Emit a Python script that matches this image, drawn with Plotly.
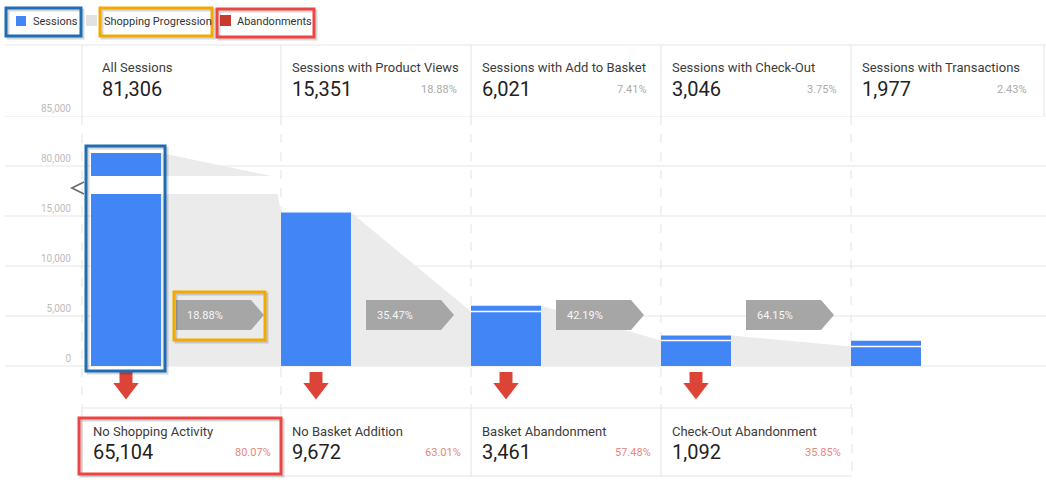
import plotly.graph_objects as go

steps = ['All Sessions', 'Sessions with Product Views', 'Sessions with Add to Basket',
         'Sessions with Check-Out', 'Sessions with Transactions']
sessions = [81306, 15351, 6021, 3046, 1977]
session_share = [None, 18.88, 7.41, 3.75, 2.43]
bar_heights = [81306, 15351, 6021, 3046, 2530]
progression_pct = [18.88, 35.47, 42.19, 64.15]
progressed = [15351, 5445, 2540, 1954]
break_wedge_end = 78800

abandon_steps = ['No Shopping Activity', 'No Basket Addition',
                 'Basket Abandonment', 'Check-Out Abandonment']
abandonments = [65104, 9672, 3461, 1092]
abandon_share = [80.07, 63.01, 57.48, 35.85]

lower_ticks = [0, 5000, 10000, 15000]
upper_ticks = [80000, 85000]

legend_items = ['Sessions', 'Shopping Progression', 'Abandonments']

# ── styling ───────────────────────────────────────────────────────
W, H = 1046, 484
BLUE = '#4285f4'
FUNNEL = '#ebebeb'
ARROW = '#a6a6a6'
RED = '#db4437'
GRID = '#e5e5e5'
FONT = 'Roboto, Arial, sans-serif'

COL = 190          # px between steps
BAR = 70           # bar width px
X0 = 126           # px centre of first bar
half = BAR / 2 / COL
ppx = 1 / COL      # x units per pixel
VPX = 100          # sessions per pixel on the lower scale


def fx(p):
    return p / W


def fy(p):
    return 1 - p / H


def xpx(p):
    return (p - X0) / COL


xs = list(range(len(steps)))
lx = [i - half for i in xs]
rx = [i + half for i in xs]

fig = go.Figure()

# ── funnel (shopping progression) ─────────────────────────────────
for i in range(len(progressed)):
    fig.add_trace(go.Scatter(
        x=[rx[i], rx[i], lx[i + 1], lx[i + 1]],
        y=[0, bar_heights[i], progressed[i], 0],
        fill='toself', fillcolor=FUNNEL, mode='lines', line=dict(width=0),
        hoverinfo='skip', showlegend=False,
    ))
fig.add_trace(go.Scatter(
    x=[rx[0], rx[0], lx[1], lx[1]],
    y=[0, bar_heights[0], break_wedge_end, 0],
    fill='toself', fillcolor=FUNNEL, mode='lines', line=dict(width=0),
    hoverinfo='skip', showlegend=False, xaxis='x2', yaxis='y2',
))

# ── session bars (both halves of the broken axis) ─────────────────
for xa, ya in [('x', 'y'), ('x2', 'y2')]:
    fig.add_trace(go.Bar(
        x=xs, y=bar_heights, width=BAR / COL, marker_color=BLUE,
        marker_line_width=0, showlegend=False, xaxis=xa, yaxis=ya,
    ))

# white split line: sessions coming from the previous step
wx, wy = [], []
for i in range(2, len(steps)):
    wx += [lx[i], rx[i], None]
    wy += [progressed[i - 1], progressed[i - 1], None]
fig.add_trace(go.Scatter(x=wx, y=wy, mode='lines', line=dict(color='white', width=1.5),
                         hoverinfo='skip', showlegend=False))

# ── progression arrows ────────────────────────────────────────────
a_top, a_bot = 6600, 3600
a_mid = (a_top + a_bot) / 2
for i, pct in enumerate(progression_pct):
    s = rx[i] + 15 * ppx
    e = s + 75 * ppx
    t = s + 88 * ppx
    fig.add_trace(go.Scatter(
        x=[s, e, t, e, s], y=[a_top, a_top, a_mid, a_bot, a_bot],
        fill='toself', fillcolor=ARROW, mode='lines', line=dict(width=0),
        hoverinfo='skip', showlegend=False,
    ))
    fig.add_annotation(x=s + 9 * ppx, y=a_mid, text=f'{pct:.2f}%', showarrow=False,
                       xanchor='left', yanchor='middle',
                       font=dict(family=FONT, size=11, color='#f7f7f7'))

# ── abandonment arrows (below the zero line) ──────────────────────
fig.add_trace(go.Scatter(
    x=xs[:4], y=[-12.5 * VPX] * 4, mode='markers',
    marker=dict(symbol='square', size=13, color=RED, line_width=0),
    hoverinfo='skip', showlegend=False,
))
fig.add_trace(go.Scatter(
    x=xs[:4], y=[-22.5 * VPX] * 4, mode='markers',
    marker=dict(symbol='triangle-down', size=22, color=RED, line_width=0),
    hoverinfo='skip', showlegend=False,
))

shapes = []
ann = []

# gridlines (span the label column too)
for ref, ticks in [('y', lower_ticks), ('y2', upper_ticks)]:
    for v in ticks:
        shapes.append(dict(type='line', xref='paper', yref=ref, x0=fx(5), x1=1,
                           y0=v, y1=v, line=dict(color=GRID, width=1), layer='below'))


# table lines
def hline(y, x0, x1, dash='solid'):
    shapes.append(dict(type='line', xref='paper', yref='paper', x0=fx(x0), x1=fx(x1),
                       y0=fy(y), y1=fy(y), line=dict(color=GRID, width=1, dash=dash),
                       layer='below'))


def vline(x, y0, y1, dash='solid'):
    shapes.append(dict(type='line', xref='paper', yref='paper', x0=fx(x), x1=fx(x),
                       y0=fy(y0), y1=fy(y1), line=dict(color='#e3e3e3', width=1, dash=dash),
                       layer='below'))


col_edges = [82] + [X0 + COL * i - BAR / 2 for i in range(1, 5)]
hline(45, 5, 1046)
for c in col_edges + [1044]:
    vline(c, 45, 116)
for c in col_edges:
    vline(c, 116, 408, dash='dash')
hline(408, 82, 852)
hline(476, 82, 852)
for c in col_edges[:4]:
    vline(c, 408, 476)
vline(852, 408, 476, dash='dash')

# axis break chevron
shapes.append(dict(type='path', xref='paper', yref='paper',
                   path=f'M {fx(84)} {fy(182)} L {fx(72)} {fy(188)} L {fx(84)} {fy(194)}',
                   line=dict(color='#6e6e6e', width=1.8)))

# ── header cells ──────────────────────────────────────────────────
for i, name in enumerate(steps):
    left = 82 if i == 0 else col_edges[i]
    right = X0 + COL * (i + 1) - BAR / 2
    tx = left + (18 if i == 0 else 9)
    ann.append(dict(x=fx(tx), y=fy(67), text=name, xanchor='left', yanchor='middle',
                    font=dict(family=FONT, size=13, color='#3c3c3c')))
    ann.append(dict(x=fx(tx), y=fy(89), text=f'{sessions[i]:,}', xanchor='left',
                    yanchor='middle', font=dict(family=FONT, size=20, color='#222222')))
    if session_share[i] is not None:
        ann.append(dict(x=fx(right - 12), y=fy(90), text=f'{session_share[i]:.2f}%',
                        xanchor='right', yanchor='middle',
                        font=dict(family=FONT, size=11, color='#ababab')))

# ── abandonment cells ─────────────────────────────────────────────
for i, name in enumerate(abandon_steps):
    left = col_edges[i]
    right = col_edges[i + 1] if i + 1 < len(col_edges) else 852
    ann.append(dict(x=fx(left + 9), y=fy(431), text=name, xanchor='left', yanchor='middle',
                    font=dict(family=FONT, size=13, color='#3c3c3c')))
    ann.append(dict(x=fx(left + 9), y=fy(452), text=f'{abandonments[i]:,}', xanchor='left',
                    yanchor='middle', font=dict(family=FONT, size=20, color='#222222')))
    ann.append(dict(x=fx(right - 8), y=fy(452), text=f'{abandon_share[i]:.2f}%',
                    xanchor='right', yanchor='middle',
                    font=dict(family=FONT, size=11, color='#e8877e')))

# ── legend ────────────────────────────────────────────────────────
legend_sq = [(16, 16, 26, 26, BLUE), (86, 15, 97, 26, '#e2e2e2'), (220, 15, 231, 26, '#cc3a2f')]
legend_tx = [31, 102, 235]
for (x0, y0, x1, y1, c), t, label in zip(legend_sq, legend_tx, legend_items):
    shapes.append(dict(type='rect', xref='paper', yref='paper', x0=fx(x0), x1=fx(x1),
                       y0=fy(y1), y1=fy(y0), fillcolor=c, line=dict(width=0)))
    ann.append(dict(x=fx(t), y=fy(21), text=label, xanchor='left', yanchor='middle',
                    font=dict(family=FONT, size=11, color='#333333')))

# ── highlight boxes ───────────────────────────────────────────────
boxes = [
    (6, 8, 81, 36, '#1f6db5'),
    (100, 8, 212, 36, '#f2a900'),
    (217, 9, 314, 37, '#ef4444'),
    (86, 146, 165, 371, '#1f6db5'),
    (174, 292, 265, 340, '#f2a900'),
    (79, 418, 281, 474, '#ef4444'),
]
for x0, y0, x1, y1, c in boxes:
    shapes.append(dict(type='rect', xref='paper', yref='paper',
                       x0=fx(x0 + 2), x1=fx(x1 + 2), y0=fy(y1 + 2), y1=fy(y0 + 2),
                       line=dict(color='rgba(0,0,0,0.16)', width=3)))
    shapes.append(dict(type='rect', xref='paper', yref='paper',
                       x0=fx(x0), x1=fx(x1), y0=fy(y1), y1=fy(y0),
                       line=dict(color=c, width=3)))

for a in ann:
    a['showarrow'] = False
    a['xref'] = 'paper'
    a['yref'] = 'paper'
    fig.add_annotation(**a)

xrange = [xpx(82), xpx(1046)]
yaxis_common = dict(
    showgrid=False, zeroline=False, showline=False, ticks='',
    tickfont=dict(family=FONT, size=10, color='#bdbdbd'),
    ticklabelshift=-8, ticklabelstandoff=10, fixedrange=True,
)

fig.update_layout(
    width=W, height=H,
    margin=dict(l=0, r=0, t=0, b=0, autoexpand=False),
    paper_bgcolor='white', plot_bgcolor='rgba(0,0,0,0)',
    font=dict(family=FONT),
    showlegend=False, barmode='overlay',
    shapes=shapes,
    xaxis=dict(domain=[fx(82), 1], range=xrange, visible=False, anchor='y', fixedrange=True),
    xaxis2=dict(domain=[fx(82), 1], range=xrange, visible=False, anchor='y2', matches='x'),
    # lower half of the broken axis; extends below zero to hold the red arrows
    yaxis=dict(domain=[fy(408), fy(194)], range=[-(408 - 366) * VPX, (366 - 194) * VPX],
               anchor='x', tickvals=lower_ticks, ticktext=[f'{v:,}' for v in lower_ticks],
               **yaxis_common),
    yaxis2=dict(domain=[fy(176), fy(116)], range=[79000, 85000], anchor='x2',
                tickvals=upper_ticks, ticktext=[f'{v:,}' for v in upper_ticks],
                **yaxis_common),
)

fig.write_html('out.html', config={'displayModeBar': False},
               post_script="document.body.style.margin='0';")
